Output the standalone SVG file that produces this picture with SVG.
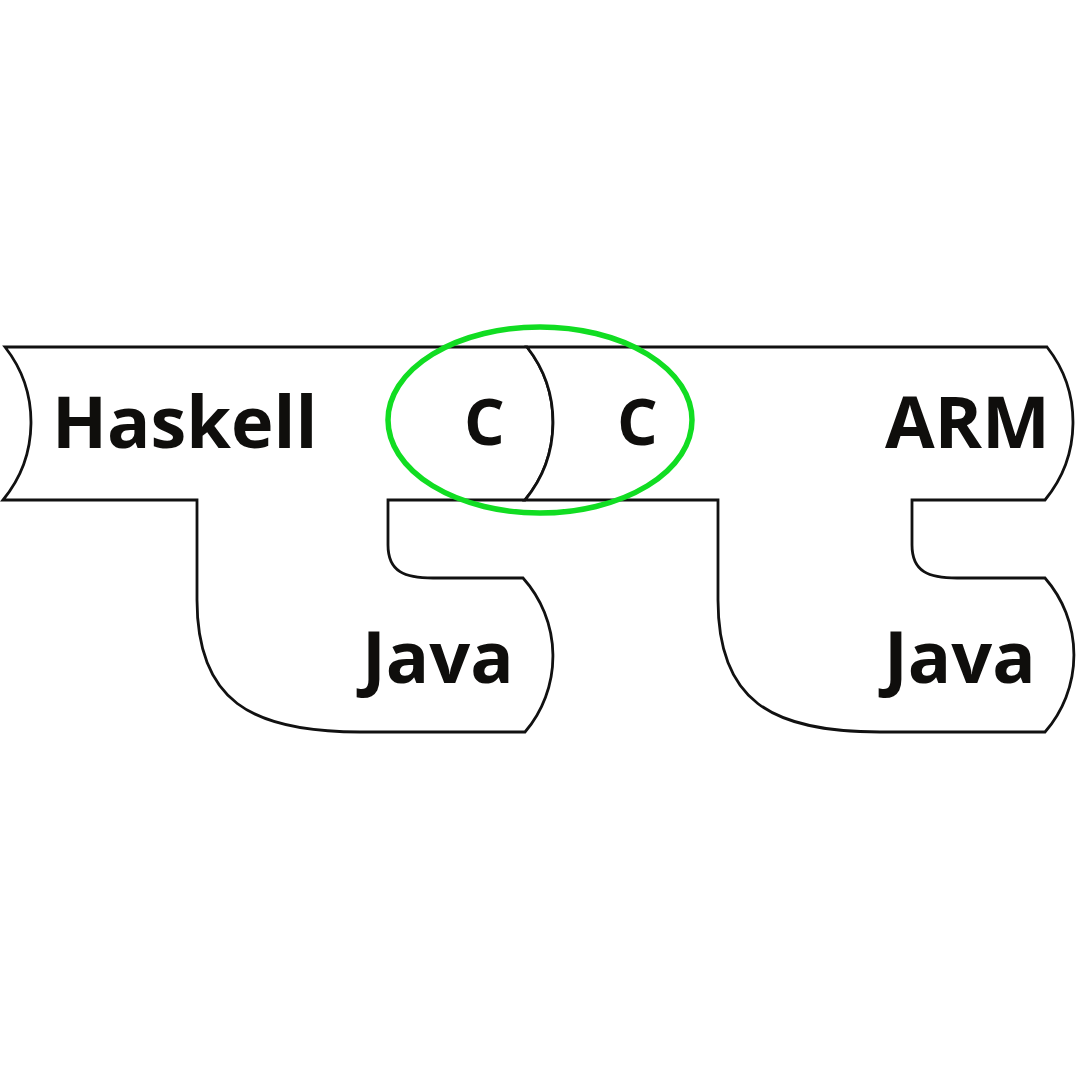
<svg xmlns="http://www.w3.org/2000/svg" width="1080" height="1080" viewBox="0 0 1080 1080">
<style>
.tee{fill:#fff;stroke:#111;stroke-width:2.8;stroke-linejoin:miter}
.lbl{font-family:"Open Sans","Liberation Sans",sans-serif;font-weight:bold;fill:#0f0e0c;font-size:72px}
.c{font-size:64px}
.hl{fill:none;stroke:#11dd22;stroke-width:5.5}
</style>
<rect width="1080" height="1080" fill="#fff"/>
<g id="compiler-haskell-c-java">
<path class="tee" d="M 5,347 L 527,347 A 122,122 0 0 1 525,500 L 388,500 L 388,545 C 388,572 405,578 433,578 L 523,578 A 117,117 0 0 1 525,732 L 360,732 C 250,732 197,700 197,600 L 197,500 L 3,500 A 122,122 0 0 0 5,347 Z"/>
<text class="lbl" x="52" y="448" font-size="70">Haskell</text>
<text class="lbl c" x="464" y="445">C</text>
<text class="lbl" x="362" y="683">Java</text>
</g>
<g id="compiler-c-arm-java">
<path class="tee" d="M 527,347 L 1047,347 A 122,122 0 0 1 1045,500 L 912,500 L 912,545 C 912,572 929,578 957,578 L 1045,578 A 117,117 0 0 1 1045,732 L 880,732 C 770,732 718,700 718,600 L 718,500 L 525,500 A 122,122 0 0 0 527,347 Z"/>
<text class="lbl c" x="617" y="445">C</text>
<text class="lbl" x="1050" y="448" text-anchor="end">ARM</text>
<text class="lbl" x="884" y="683">Java</text>
</g>
<g id="connectors">
<ellipse id="highlight" class="hl" cx="540" cy="420" rx="152" ry="93"/>
</g>
</svg>
